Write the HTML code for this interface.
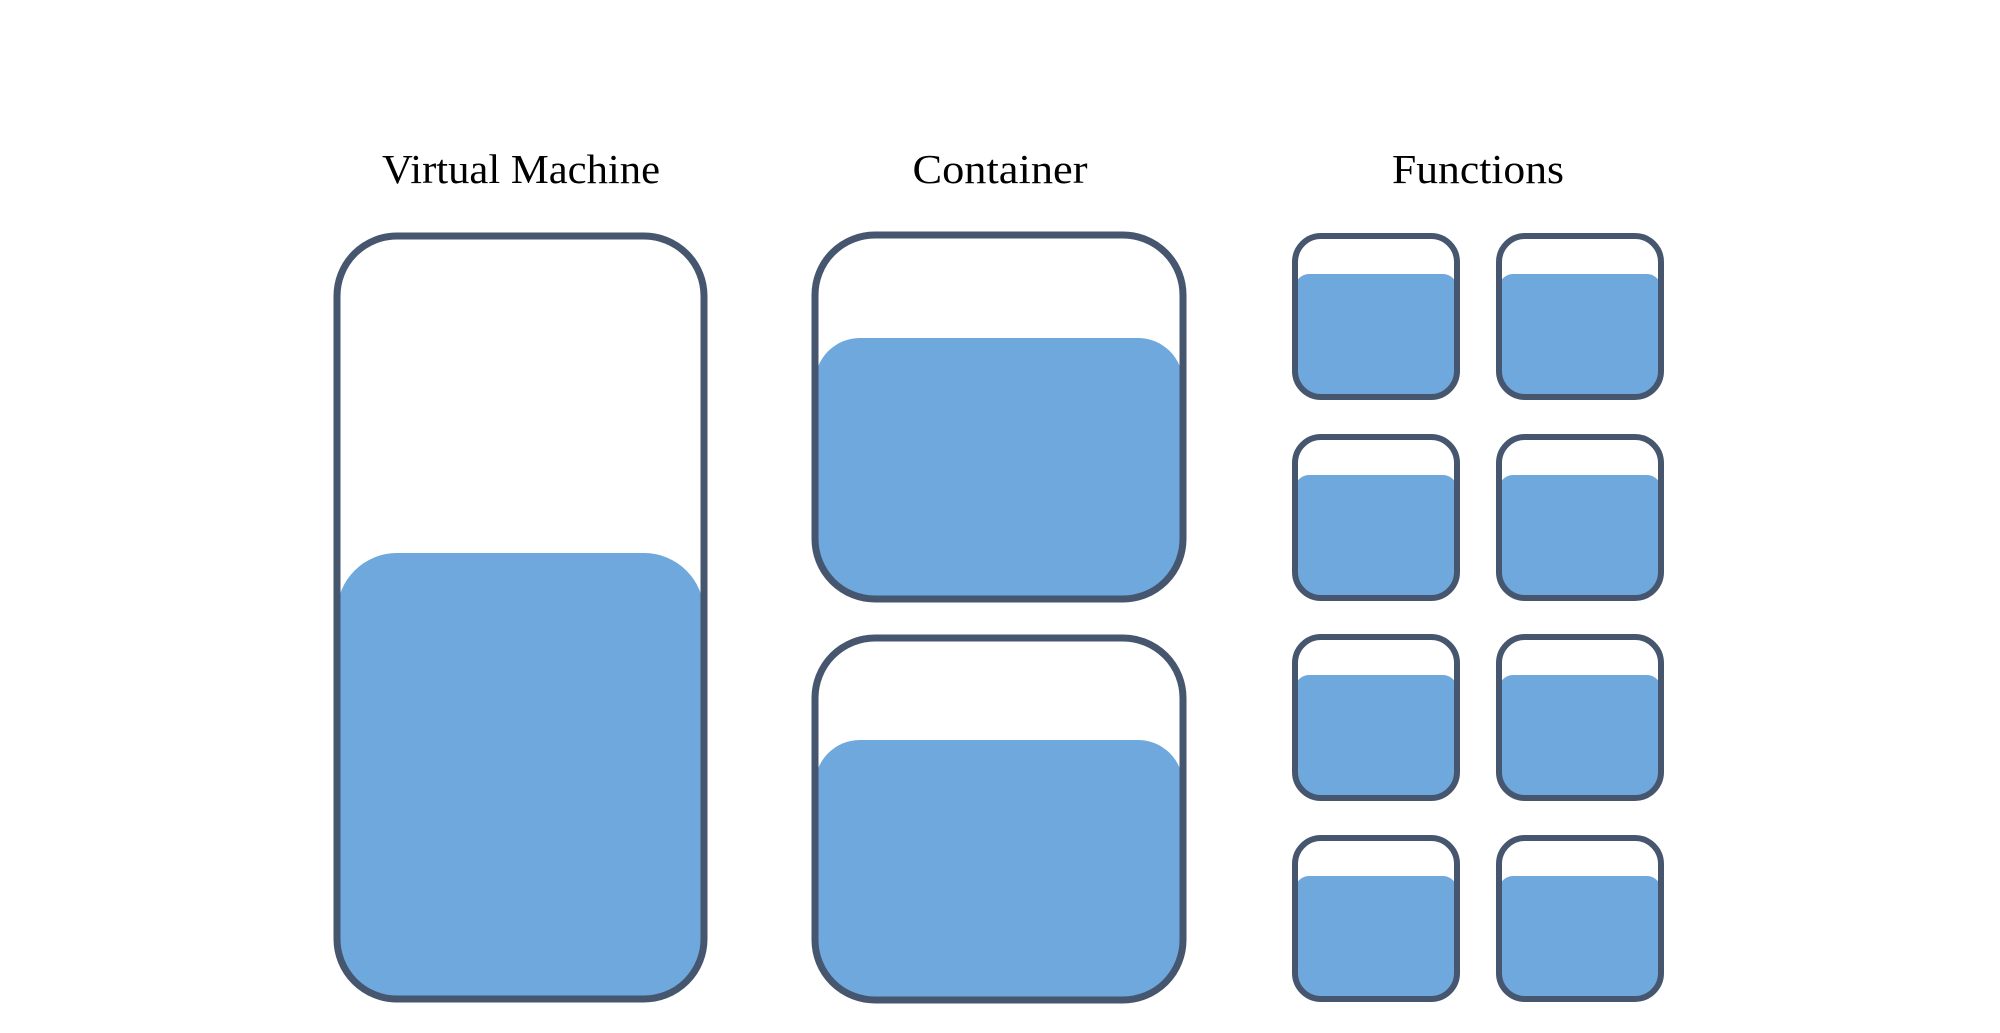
<!DOCTYPE html>
<html><head><meta charset="utf-8"><style>html,body{margin:0;padding:0;background:#fff;overflow:hidden;width:2000px;height:1033px}svg{display:block}</style></head>
<body>
<svg width="2000" height="1033" viewBox="0 0 2000 1033" xmlns="http://www.w3.org/2000/svg">
<defs>
<clipPath id="c1"><rect x="337" y="236" width="367" height="763" rx="60"/></clipPath>
<clipPath id="c2"><rect x="815" y="235" width="368" height="364" rx="60"/></clipPath>
<clipPath id="c3"><rect x="815" y="638" width="368" height="362" rx="60"/></clipPath>
</defs>
<g font-family="'Liberation Serif', serif" font-size="41" fill="#000" text-anchor="middle">
<text x="521" y="183" textLength="278" lengthAdjust="spacingAndGlyphs">Virtual Machine</text>
<text x="1000" y="183" textLength="175" lengthAdjust="spacingAndGlyphs">Container</text>
<text x="1478" y="183" textLength="172" lengthAdjust="spacingAndGlyphs">Functions</text>
</g>
<g fill="#6fa8dc">
<rect x="337" y="553" width="367" height="600" rx="60" clip-path="url(#c1)"/>
<rect x="815" y="338" width="368" height="400" rx="45" clip-path="url(#c2)"/>
<rect x="815" y="740" width="368" height="400" rx="45" clip-path="url(#c3)"/>
</g>
<g fill="none" stroke="#45566e" stroke-width="7">
<rect x="337" y="236" width="367" height="763" rx="60"/>
<rect x="815" y="235" width="368" height="364" rx="60"/>
<rect x="815" y="638" width="368" height="362" rx="60"/>
</g>
<g id="funcs"></g>
<script>
var g=document.getElementById('funcs'),ns='http://www.w3.org/2000/svg';
var cols=[1295,1499],tops=[236,437,637,838];
var k=0;
cols.forEach(function(x){tops.forEach(function(y){
 k++;var w=162,h=161;
 var cp=document.createElementNS(ns,'clipPath');cp.setAttribute('id','f'+k);
 var cr=document.createElementNS(ns,'rect');cr.setAttribute('x',x);cr.setAttribute('y',y);cr.setAttribute('width',w);cr.setAttribute('height',h);cr.setAttribute('rx',26);cp.appendChild(cr);g.appendChild(cp);
 var f=document.createElementNS(ns,'rect');f.setAttribute('x',x);f.setAttribute('y',y+38);f.setAttribute('width',w);f.setAttribute('height',200);f.setAttribute('rx',14);f.setAttribute('fill','#6fa8dc');f.setAttribute('clip-path','url(#f'+k+')');g.appendChild(f);
 var s=document.createElementNS(ns,'rect');s.setAttribute('x',x);s.setAttribute('y',y);s.setAttribute('width',w);s.setAttribute('height',h);s.setAttribute('rx',26);s.setAttribute('fill','none');s.setAttribute('stroke','#45566e');s.setAttribute('stroke-width',6);g.appendChild(s);
});});
</script>
</svg>
</body></html>
